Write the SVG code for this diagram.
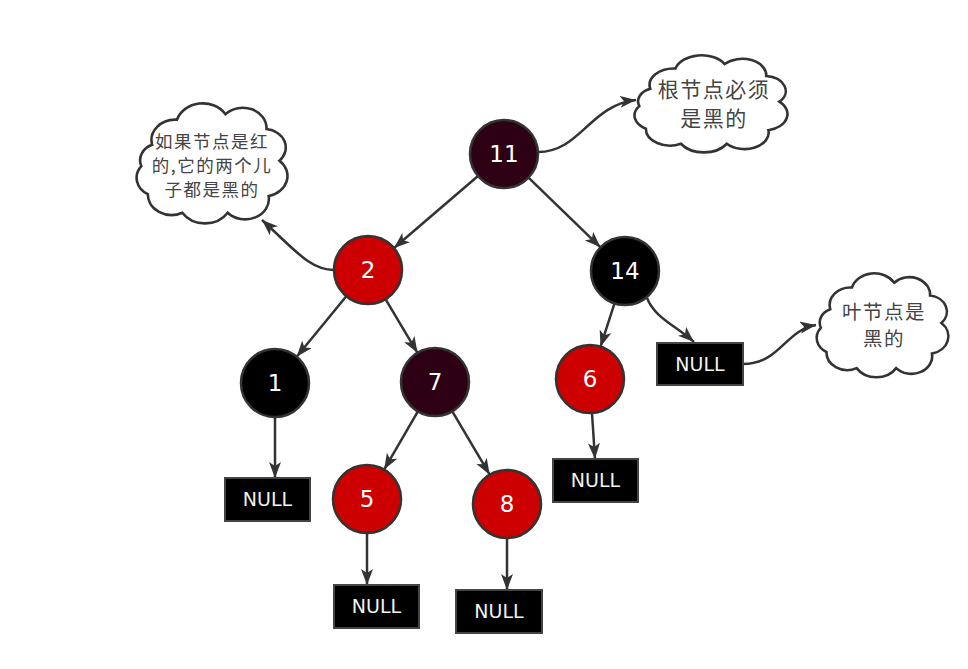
<svg xmlns="http://www.w3.org/2000/svg" width="968" height="669" viewBox="0 0 968 669">
  <style>
    .node circle { stroke: #333; stroke-width: 2.5; }
    .red { fill: #cc0000; }
    .black { fill: #000; }
    .maroon { fill: #2e0014; }
    .num { fill: #fff; font-family: "DejaVu Sans", sans-serif; font-size: 23px; text-anchor: middle; }
    .nil rect { fill: #000; stroke: #444; stroke-width: 2; }
    .nil text { fill: #f2f2f2; font-family: "DejaVu Sans", sans-serif; font-size: 19px; text-anchor: middle; }
    .edge { fill: none; stroke: #333; stroke-width: 2.5; marker-end: url(#arrow); }
    .cloud use { fill: #fff; stroke: #333; stroke-width: 2.6; vector-effect: non-scaling-stroke; }
    .note { fill: #444; font-family: "Noto Sans CJK SC", "Noto Sans", sans-serif; text-anchor: middle; letter-spacing: 1.5px; }
  </style>
  <defs>
    <marker id="arrow" markerUnits="userSpaceOnUse" markerWidth="17" markerHeight="13" refX="16" refY="6" orient="auto">
      <path d="M0,0 L16,6 L0,12 L4,6 Z" fill="#333"/>
    </marker>
    <!-- scalloped callout outline, drawn in a ~140x130 box -->
    <path id="cloudShape" vector-effect="non-scaling-stroke" d="M22,45 A22,22 0 0 1 45,18 A25,25 0 0 1 90,12 A22,22 0 0 1 128,28 A20,20 0 0 1 140,62 A22,22 0 0 1 130,100 A22,22 0 0 1 92,118 A25,25 0 0 1 50,118 A22,22 0 0 1 18,98 A20,20 0 0 1 12,68 A18,18 0 0 1 22,45 Z"/>
  </defs>

  <rect width="968" height="669" fill="#fff"/>

  <!-- connectors -->
  <g id="connectors">
    <line class="edge" x1="478" y1="176" x2="394" y2="248"/>
    <line class="edge" x1="528.5" y1="177.7" x2="600.5" y2="247.3"/>
    <line class="edge" x1="346.3" y1="296.3" x2="296.7" y2="356.7"/>
    <line class="edge" x1="385.5" y1="299.2" x2="417.5" y2="352.8"/>
    <line class="edge" x1="417.9" y1="411.4" x2="384.1" y2="469.6"/>
    <line class="edge" x1="452.3" y1="411.3" x2="489.7" y2="474.7"/>
    <line class="edge" x1="614.5" y1="303.3" x2="600.5" y2="346.7"/>
    <path class="edge" d="M647,298 C655,318 675,325 694,342"/>
    <line class="edge" x1="275" y1="417" x2="275" y2="478"/>
    <line class="edge" x1="367" y1="533" x2="367" y2="585"/>
    <line class="edge" x1="507" y1="538" x2="507" y2="590"/>
    <line class="edge" x1="592" y1="413" x2="595" y2="459"/>
    <path class="edge" d="M334,270 C310,270 295,250 262,220"/>
    <path class="edge" d="M538,152 C580,152 590,105 636,100"/>
    <path class="edge" d="M743,364 C780,364 785,330 816,325"/>
  </g>

  <!-- tree nodes -->
  <g id="n11" class="node"><circle cx="504" cy="154" r="34" class="maroon"/><text class="num" x="504" y="162">11</text></g>
  <g id="n2" class="node"><circle cx="368" cy="270" r="34" class="red"/><text class="num" x="368" y="278">2</text></g>
  <g id="n14" class="node"><circle cx="625" cy="271" r="34" class="black"/><text class="num" x="625" y="279">14</text></g>
  <g id="n1" class="node"><circle cx="275" cy="383" r="34" class="black"/><text class="num" x="275" y="391">1</text></g>
  <g id="n7" class="node"><circle cx="435" cy="382" r="34" class="maroon"/><text class="num" x="435" y="390">7</text></g>
  <g id="n6" class="node"><circle cx="590" cy="379" r="34" class="red"/><text class="num" x="590" y="387">6</text></g>
  <g id="n5" class="node"><circle cx="367" cy="499" r="34" class="red"/><text class="num" x="367" y="507">5</text></g>
  <g id="n8" class="node"><circle cx="507" cy="504" r="34" class="red"/><text class="num" x="507" y="512">8</text></g>

  <!-- leaf sentinels -->
  <g id="nil1" class="nil"><rect x="225" y="478" width="85" height="43"/><text x="267.5" y="506">NULL</text></g>
  <g id="nil5" class="nil"><rect x="334" y="585" width="85" height="43"/><text x="376.5" y="613">NULL</text></g>
  <g id="nil8" class="nil"><rect x="456" y="590" width="86" height="43"/><text x="499" y="618">NULL</text></g>
  <g id="nil6" class="nil"><rect x="553" y="459" width="85" height="43"/><text x="595.5" y="487">NULL</text></g>
  <g id="nil14" class="nil"><rect x="657" y="343" width="86" height="42"/><text x="700" y="371">NULL</text></g>

  <!-- annotations: each callout label is one multi-line text -->
  <g id="noteRed" class="cloud">
    <use href="#cloudShape" transform="translate(128.4,103) scale(1.079,0.93)"/>
    <text class="note" font-size="17.5"><tspan x="212" y="148">如果节点是红</tspan><tspan x="212" dy="24">的,它的两个儿</tspan><tspan x="212" dy="24">子都是黑的</tspan></text>
  </g>
  <g id="noteRoot" class="cloud">
    <use href="#cloudShape" transform="translate(626.2,55) scale(1.094,0.752)"/>
    <text class="note" font-size="21"><tspan x="714" y="97">根节点必须</tspan><tspan x="714" dy="28.5">是黑的</tspan></text>
  </g>
  <g id="noteLeaf" class="cloud">
    <use href="#cloudShape" transform="translate(809.5,273) scale(0.942,0.806)"/>
    <text class="note" font-size="19.5"><tspan x="884" y="319">叶节点是</tspan><tspan x="884" dy="26.5">黑的</tspan></text>
  </g>
</svg>
